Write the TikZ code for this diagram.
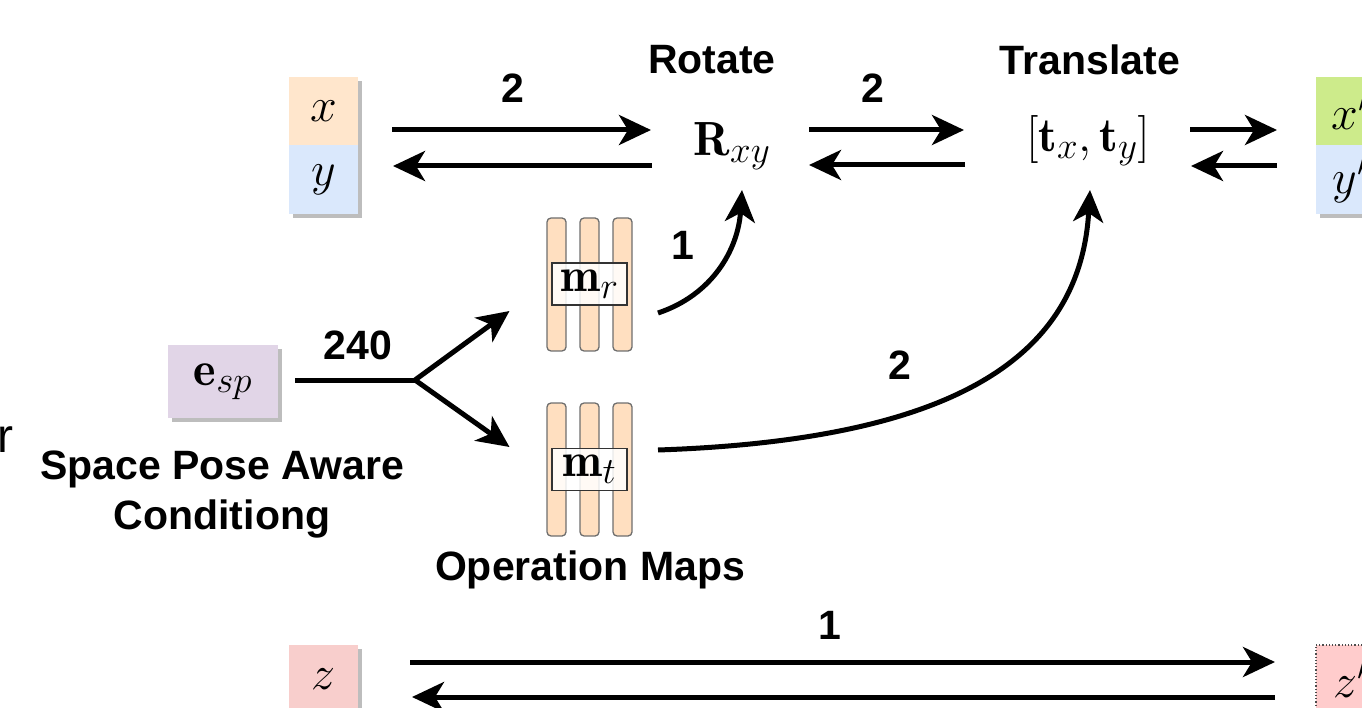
\RequirePackage{fix-cm}
\documentclass[tikz,border=0pt]{standalone}
\usepackage{fontspec}
\setsansfont{Liberation Sans}
\usetikzlibrary{arrows.meta,backgrounds}
\DeclareMathSizes{48}{48}{37}{29}

\definecolor{cellorange}{HTML}{FFE6CC}
\definecolor{cellblue}{HTML}{DAE8FC}
\definecolor{cellgreen}{HTML}{CDEB8B}
\definecolor{cellred}{HTML}{F8CECC}
\definecolor{cellpink}{HTML}{FFCCCC}
\definecolor{cellpurple}{HTML}{E1D5E7}
\definecolor{shadowgray}{HTML}{BDBDBD}
\definecolor{barline}{HTML}{6E6E6E}
\definecolor{barfill}{HTML}{FFDFC0}

\tikzset{
  every node/.style={inner sep=0pt, outer sep=0pt},
  lbl/.style={font=\fontsize{41}{50}\selectfont\sffamily\bfseries},
  mth/.style={font=\fontsize{48}{54}\selectfont},
  cell/.style={rectangle, minimum width=69pt, minimum height=68pt, font=\fontsize{48}{54}\selectfont},
  arr/.style={line width=5pt, -{Stealth[length=32pt,width=30pt,inset=9pt]}},
  plainline/.style={line width=5pt},
  bar/.style={rectangle, rounded corners=4pt, draw=barline, line width=1.3pt,
    fill=barfill, minimum width=19pt, minimum height=133pt},
  mapname/.style={rectangle, draw=black!80, line width=1.5pt, fill=white, fill opacity=0.85,
    text opacity=1, minimum width=75pt, minimum height=42pt, font=\fontsize{48}{54}\selectfont},
}

\begin{document}
\begin{tikzpicture}[x=1pt, y=-1pt]
\useasboundingbox (0,0) rectangle (1362,708);
\clip (0,0) rectangle (1362,708);

% input and output cells
\node[cell, fill=cellorange] (xc) at (323.5,111) {$x$};
\node[cell, fill=cellblue, minimum height=69pt] (yc) at (323.5,179.5) {$y$};
\node[cell, fill=cellgreen] (xo) at (1350.5,111) {$x'$};
\node[cell, fill=cellblue, minimum height=69pt] (yo) at (1350.5,179.5) {$y'$};
\node[cell, fill=cellred] (zc) at (323.5,679) {$z$};
\node[cell, fill=cellpink, draw=black!70, dotted, line width=1.2pt] (zo) at (1350.5,679) {$z'$};
\node[cell, fill=cellpurple, minimum width=110pt, minimum height=73pt] (esp) at (223,381.5) {$\mathbf{e}_{sp}$};

\begin{scope}[on background layer]
  \fill[shadowgray] ([shift={(4,4)}]xc.north west) rectangle ([shift={(4,4)}]yc.south east);
  \fill[shadowgray] ([shift={(4,4)}]zc.north west) rectangle ([shift={(4,4)}]zc.south east);
  \fill[shadowgray] ([shift={(4,4)}]esp.north west) rectangle ([shift={(4,4)}]esp.south east);
  \fill[shadowgray] ([shift={(4,4)}]xo.north west) rectangle ([shift={(4,4)}]yo.south east);
\end{scope}

% operators
\node[lbl] (rotlbl) at (712,60) {Rotate};
\node[lbl] (trlbl) at (1090,60) {Translate};
\node[mth] (R) at (732,146) {$\mathbf{R}_{xy}$};
\node[mth] (T) at (1088,141) {$[\mathbf{t}_x, \mathbf{t}_y]$};

% operation maps
\foreach \cx [count=\i] in {556.5,589.5,622.5} {
  \node[bar] (br\i) at (\cx,284.5) {};
  \node[bar] (bt\i) at (\cx,469.5) {};
}
\node[mapname] (mr) at (589.5,284) {$\mathbf{m}_r$};
\node[mapname] (mt) at (589.5,469.5) {$\mathbf{m}_t$};
\node[lbl] (oplbl) at (590,570) {Operation Maps};

% conditioning
\node[lbl, align=center] (cond) at (222,495) {Space Pose Aware\\Conditiong};
\node[font=\fontsize{48}{54}\selectfont\sffamily, anchor=base west] (rfrag) at (-2,452) {r};

% top row arrows
\draw[arr] ([shift={(68.5,19)}]xc.center) -- ([shift={(-81,-16)}]R.center);
\draw[arr] ([shift={(-80,20)}]R.center) -- ([shift={(69.5,55)}]xc.center);
\draw[arr] ([shift={(77,-16)}]R.center) -- ([shift={(-124,-11)}]T.center);
\draw[arr] ([shift={(-123,24)}]T.center) -- ([shift={(77,19)}]R.center);
\draw[arr] ([shift={(102,-11)}]T.center) -- ([shift={(-73.5,19)}]xo.center);
\draw[arr] ([shift={(-73.5,55)}]xo.center) -- ([shift={(103,25)}]T.center);
\node[lbl] (n2a) at (513,88) {2};
\node[lbl] (n2b) at (873,88) {2};

% bottom row arrows
\draw[arr] ([shift={(86.5,-17)}]zc.center) -- ([shift={(-75.5,-17)}]zo.center);
\draw[arr] ([shift={(-75.5,18)}]zo.center) -- ([shift={(88.5,18)}]zc.center);
\node[lbl] (n1b) at (830,625) {1};

% split of the conditioning vector
\coordinate (split) at (415,380);
\draw[plainline] ([shift={(72,-1.5)}]esp.center) -- (split);
\draw[arr] (split) -- ([shift={(-47,26.5)}]br1.center);
\draw[arr] (split) -- ([shift={(-47,-22.5)}]bt1.center);
\node[lbl] (n240) at (358,345) {240};

% maps feeding the operators
\draw[arr] ([shift={(35.5,28.5)}]br3.center) .. controls (712,295) and (738,250) .. ([shift={(10,44)}]R.center);
\draw[arr] ([shift={(35.5,-19.5)}]bt3.center) .. controls (950,440) and (1080,360) .. ([shift={(2,49)}]T.center);
\node[lbl] (n1a) at (683,245) {1};
\node[lbl] (n2c) at (900,365) {2};
\end{tikzpicture}
\end{document}
